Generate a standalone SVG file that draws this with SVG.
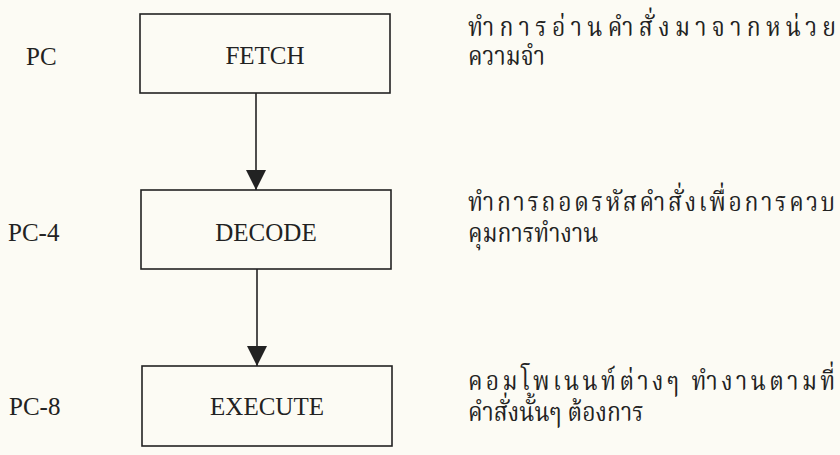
<svg xmlns="http://www.w3.org/2000/svg" width="840" height="455" viewBox="0 0 840 455">
<defs>
<style>
.box{fill:none;stroke:#222;stroke-width:1.6}
.lbl{font-family:"Liberation Serif","Times New Roman",serif;font-size:25px;fill:#222}
.th{font-family:"Noto Serif Thai","Noto Sans Thai Looped","Noto Sans Thai","Noto Sans",sans-serif;font-size:27px;fill:#222}
.conn{stroke:#222;stroke-width:1.6;fill:none}
</style>
<marker id="ah" viewBox="0 0 20 20" refX="20" refY="10" markerWidth="20" markerHeight="20" markerUnits="userSpaceOnUse" orient="auto">
<path d="M0,0 L20,10 L0,20 Z" fill="#222"/>
</marker>
</defs>
<rect width="840" height="455" fill="#fcfbf4"/>
<g id="fetch">
<rect class="box" x="140" y="14" width="250" height="79"/>
<text class="lbl" x="265" y="64" text-anchor="middle">FETCH</text>
</g>
<g id="decode">
<rect class="box" x="141" y="190" width="250" height="79"/>
<text class="lbl" x="266" y="241" text-anchor="middle">DECODE</text>
</g>
<g id="execute">
<rect class="box" x="142" y="366" width="250" height="80"/>
<text class="lbl" x="267" y="415" text-anchor="middle">EXECUTE</text>
</g>
<g id="connectors">
<line class="conn" x1="256" y1="93" x2="256" y2="190" marker-end="url(#ah)"/>
<line class="conn" x1="257" y1="269" x2="257" y2="366" marker-end="url(#ah)"/>
</g>
<g id="labels">
<text class="lbl" x="26" y="65">PC</text>
<text class="lbl" x="8" y="241">PC-4</text>
<text class="lbl" x="9" y="415">PC-8</text>
<g transform="translate(468,0) scale(0.85,1)">
<text class="th" x="0" y="36" textLength="433" lengthAdjust="spacing">ทำการอ่านคำสั่งมาจากหน่วย</text>
<text class="th" x="0" y="65">ความจำ</text>
<text class="th" x="0" y="211" textLength="432" lengthAdjust="spacing">ทำการถอดรหัสคำสั่งเพื่อการควบ</text>
<text class="th" x="0" y="242">คุมการทำงาน</text>
<text class="th" x="0" y="390" textLength="432" lengthAdjust="spacing">คอมโพเนนท์ต่างๆ  ทำงานตามที่</text>
<text class="th" x="0" y="421">คำสั่งนั้นๆ ต้องการ</text>
</g>
</g>
</svg>
